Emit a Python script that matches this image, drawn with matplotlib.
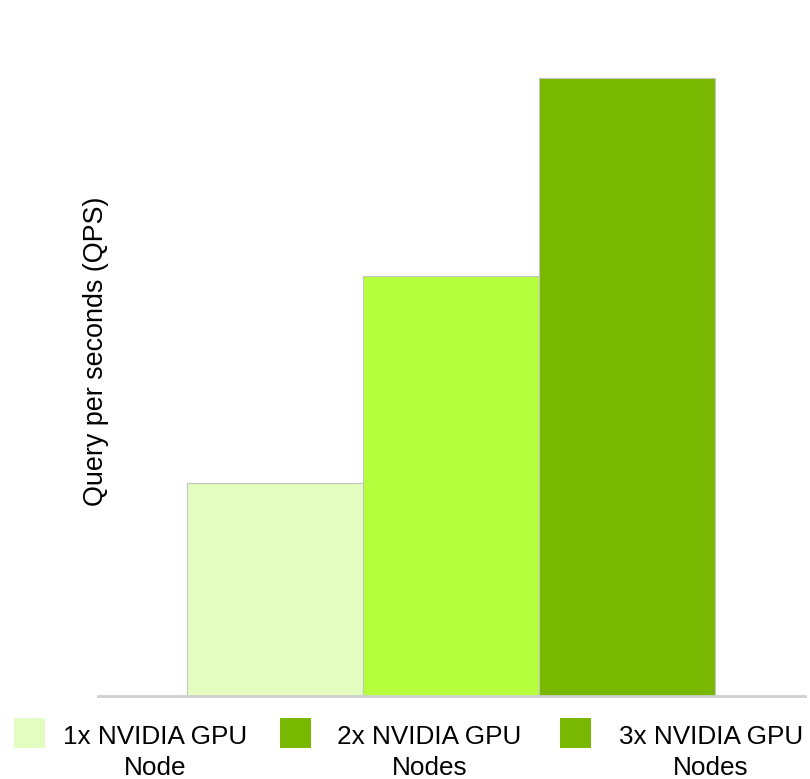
import matplotlib.pyplot as plt
from matplotlib.patches import Rectangle

# relative throughput (no tick labels in the original)
labels = ['1x NVIDIA GPU\nNode', '2x NVIDIA GPU\nNodes', '3x NVIDIA GPU\nNodes']
qps = [1.0, 1.97, 2.90]
bar_colors = ['#e2fdbf', '#b6ff3c', '#78b800']
# the original legend shows the dark green for both 2x and 3x
legend_colors = ['#e2fdbf', '#78b800', '#78b800']

plt.rcParams['font.family'] = ['Liberation Sans', 'DejaVu Sans']

W, H = 810, 779
fig = plt.figure(figsize=(W/100, H/100), dpi=100)
ax = fig.add_axes([98/W, 83/H, 707/W, 686/H])

x = list(range(len(qps)))
ax.bar(x, qps, width=1.0, color=bar_colors, edgecolor='#c4c4c4', linewidth=0.8, zorder=2)

ax.set_xlim(-1.006, 3.01)
ax.set_ylim(0, 3.22)
ax.set_xticks([])
ax.set_yticks([])
for s in ['top', 'right', 'left']:
    ax.spines[s].set_visible(False)
ax.spines['bottom'].set_color('#cfcfcf')
ax.spines['bottom'].set_linewidth(2)
ax.set_ylabel('Query per seconds (QPS)', fontsize=19.4)
ax.yaxis.set_label_coords(0.0155, 0.503)

# legend laid out by hand: square swatch + two centred lines per entry
swatch_x = [14, 280, 560]
text_cx = [155, 429.5, 711]
for sx, cx, col, lab in zip(swatch_x, text_cx, legend_colors, labels):
    fig.add_artist(Rectangle((sx/W, 1 - 748/H), 31/W, 30/H, transform=fig.transFigure,
                             facecolor=col, edgecolor='none'))
    first, second = lab.split('\n')
    fig.text(cx/W, 1 - 744/H, first, ha='center', va='baseline', fontsize=18.8)
    fig.text(cx/W, 1 - 775/H, second, ha='center', va='baseline', fontsize=18.8)

fig.savefig('out.png', dpi=100)
